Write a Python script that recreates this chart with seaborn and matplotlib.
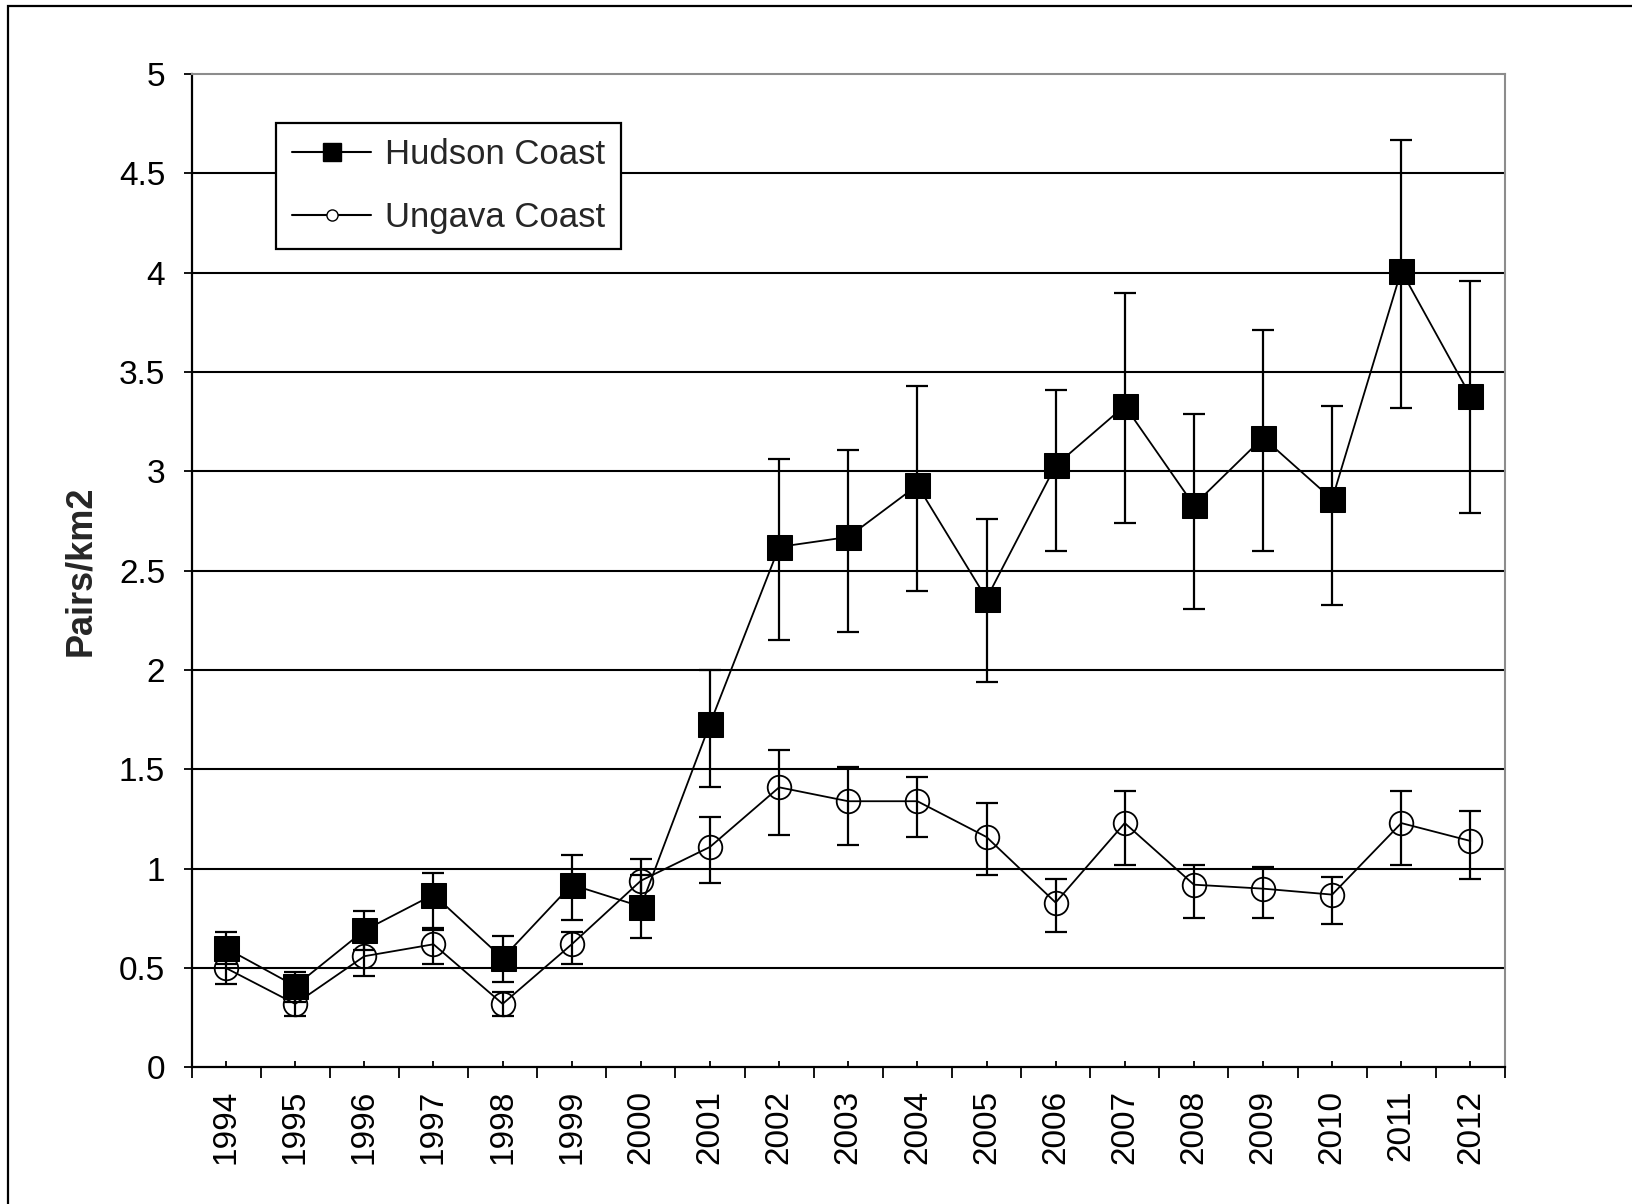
import matplotlib
matplotlib.use("Agg")
import matplotlib.pyplot as plt
import seaborn as sns
import numpy as np
from matplotlib.lines import Line2D
from matplotlib.patches import Rectangle
from matplotlib.ticker import FuncFormatter

# данные
years = ['1994', '1995', '1996', '1997', '1998', '1999', '2000', '2001', '2002', '2003',
         '2004', '2005', '2006', '2007', '2008', '2009', '2010', '2011', '2012']
hudson = [0.60, 0.41, 0.69, 0.87, 0.55, 0.92, 0.81, 1.73, 2.62, 2.67,
          2.93, 2.36, 3.03, 3.33, 2.83, 3.17, 2.86, 4.01, 3.38]
hudson_lo = [0.52, 0.33, 0.59, 0.70, 0.43, 0.74, 0.65, 1.41, 2.15, 2.19,
             2.40, 1.94, 2.60, 2.74, 2.31, 2.60, 2.33, 3.32, 2.79]
hudson_hi = [0.68, 0.48, 0.79, 0.98, 0.66, 1.07, 0.97, 2.00, 3.06, 3.11,
             3.43, 2.76, 3.41, 3.90, 3.29, 3.71, 3.33, 4.67, 3.96]
ungava = [0.50, 0.32, 0.56, 0.62, 0.32, 0.62, 0.94, 1.11, 1.41, 1.34,
          1.34, 1.16, 0.83, 1.23, 0.92, 0.90, 0.87, 1.23, 1.14]
ungava_lo = [0.42, 0.26, 0.46, 0.52, 0.26, 0.52, 0.83, 0.93, 1.17, 1.12,
             1.16, 0.97, 0.68, 1.02, 0.75, 0.75, 0.72, 1.02, 0.95]
ungava_hi = [0.58, 0.37, 0.65, 0.69, 0.38, 0.68, 1.05, 1.26, 1.60, 1.51,
             1.46, 1.33, 0.95, 1.39, 1.02, 1.01, 0.96, 1.39, 1.29]

sns.set_theme(style="white")
plt.rcParams['font.family'] = ['Liberation Sans', 'DejaVu Sans']

fig = plt.figure(figsize=(16.33, 12.04), dpi=100)
ax = fig.add_axes([0.1173, 0.1134, 0.9216 - 0.1173, 0.9385 - 0.1134])

pos = np.arange(len(years))

# горизонтальные линии сетки
for v in np.arange(0.5, 5.0, 0.5):
    ax.axhline(v, color='black', lw=1.5, zorder=1)

# планки погрешностей
for y, lo, hi in [(hudson, hudson_lo, hudson_hi), (ungava, ungava_lo, ungava_hi)]:
    y = np.array(y)
    err = [y - np.array(lo), np.array(hi) - y]
    ax.errorbar(pos, y, yerr=err, fmt='none', ecolor='black', elinewidth=1.6,
                capsize=8, capthick=1.6, zorder=2)

sns.lineplot(x=pos, y=hudson, ax=ax, color='black', linewidth=1.3, marker='s',
             markersize=18, markeredgecolor='black', markerfacecolor='black', zorder=3)
sns.lineplot(x=pos, y=ungava, ax=ax, color='black', linewidth=1.3, marker='o',
             markersize=17, markeredgecolor='black', markerfacecolor='none',
             markeredgewidth=1.3, zorder=3)

ax.set_xlim(-0.5, len(years) - 0.5)
ax.set_ylim(0, 5)

# оси
ax.set_yticks(np.arange(0, 5.01, 0.5))
ax.yaxis.set_major_formatter(FuncFormatter(lambda v, _: f'{v:g}'))
ax.tick_params(axis='y', which='major', direction='out', length=6, width=1.3,
               pad=13, labelsize=24, left=True, color='black', labelcolor='black')

ax.set_xticks(np.arange(-0.5, len(years), 1.0))
ax.set_xticklabels([])
ax.tick_params(axis='x', which='major', direction='out', length=8, width=1.3,
               bottom=True, color='black')
ax.set_xticks(pos, minor=True)
ax.set_xticklabels(years, minor=True, rotation=90)
ax.tick_params(axis='x', which='minor', direction='in', length=4, width=1.3,
               bottom=True, pad=16, labelsize=24, color='black', labelcolor='black')

ax.set_ylabel('Pairs/km2', fontsize=26, fontweight='bold', labelpad=15)
ax.set_xlabel('')

for side in ['left', 'bottom']:
    ax.spines[side].set_color('black')
    ax.spines[side].set_linewidth(1.6)
for side in ['top', 'right']:
    ax.spines[side].set_color('#8c8c8c')
    ax.spines[side].set_linewidth(1.5)

# легенда
handles = [
    Line2D([], [], color='black', lw=1.5, marker='s', markersize=13,
           markerfacecolor='black', markeredgecolor='black'),
    Line2D([], [], color='black', lw=1.5, marker='o', markersize=8,
           markerfacecolor='white', markeredgecolor='black'),
]
leg = ax.legend(handles, ['Hudson Coast', 'Ungava Coast'], loc='upper left',
                bbox_to_anchor=(0.0643, 0.951), borderaxespad=0, fontsize=25,
                frameon=True, fancybox=False, framealpha=1, edgecolor='black',
                handlelength=2.3, handletextpad=0.4, labelspacing=0.85, borderpad=0.45)
leg.get_frame().set_linewidth(1.6)
leg.set_zorder(5)

# рамка вокруг рисунка
fig.patches.append(Rectangle((0.0051, -0.5), 2.0, 0.9949 + 0.5, transform=fig.transFigure,
                             fill=False, edgecolor='black', lw=1.6))

plt.savefig('out.png', dpi=100)
plt.close()
